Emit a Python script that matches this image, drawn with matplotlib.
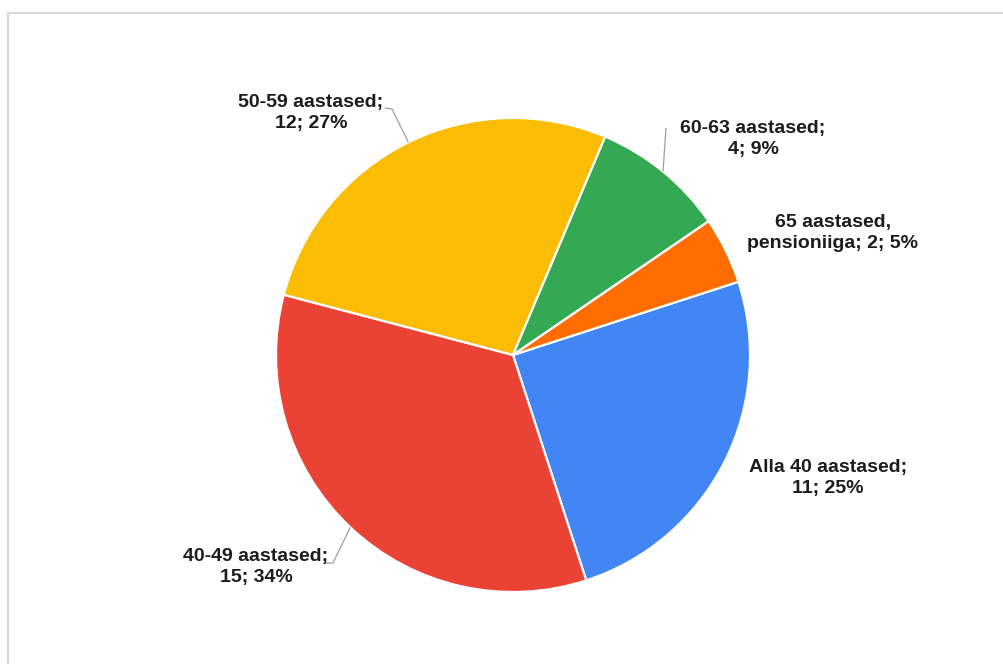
import numpy as np
import matplotlib.pyplot as plt
from matplotlib.lines import Line2D

# Age groups of respondents (clockwise from the start angle)
categories = ["Alla 40 aastased", "40-49 aastased", "50-59 aastased",
              "60-63 aastased", "65 aastased,\npensioniiga"]
counts = [11, 15, 12, 4, 2]
colors = ["#4285F4", "#EA4335", "#FBBC04", "#34A853", "#FF6D01"]

W, H, DPI = 1004, 664, 100
CX, CY, R = 513, 355, 237          # pie centre and radius in pixels

fig = plt.figure(figsize=(W / DPI, H / DPI), dpi=DPI)
ax = fig.add_axes([0, 0, 1, 1])
ax.set_aspect("equal")
ax.axis("off")

wedges, _ = ax.pie(counts, colors=colors, startangle=18, counterclock=False,
                   radius=1.0, center=(0, 0),
                   wedgeprops=dict(edgecolor="white", linewidth=1.6))
ax.set_xlim(-CX / R, (W - CX) / R)
ax.set_ylim(-(H - CY) / R, CY / R)

total = sum(counts)


def px(x, y):
    """Pixel position -> data coordinates."""
    return (x - CX) / R, (CY - y) / R


# label centres and leader-line paths (pixel layout)
label_pos = [(828, 478), (256, 567), (311, 113), (753, 139), (833, 233)]
leaders = {
    1: [(333, 563), (323, 563)],
    2: [(392, 109), (385, 108)],
    3: [(666, 128)],
}

for i, (w, cat, n) in enumerate(zip(wedges, categories, counts)):
    pct = round(100 * n / total)
    if "\n" in cat:
        text = f"{cat}; {n}; {pct}%"
    else:
        text = f"{cat};\n{n}; {pct}%"
    tx, ty = px(*label_pos[i])
    ax.text(tx, ty, text, ha="center", va="center", multialignment="center",
            fontsize=14, fontweight="bold", family="Liberation Sans",
            color="#1c1c1c", linespacing=1.3)
    if i in leaders:
        mid = np.deg2rad((w.theta1 + w.theta2) / 2)
        pts = [(np.cos(mid), np.sin(mid))] + [px(*p) for p in leaders[i]]
        xs, ys = zip(*pts)
        ax.plot(xs, ys, color="#9e9e9e", lw=0.9, solid_capstyle="butt")

# light frame on the top and left edges
fig.add_artist(Line2D([8 / W, 1], [1 - 13 / H, 1 - 13 / H],
                      color="#d9d9d9", lw=1.5, transform=fig.transFigure))
fig.add_artist(Line2D([8 / W, 8 / W], [0, 1 - 13 / H],
                      color="#d9d9d9", lw=1.5, transform=fig.transFigure))

fig.savefig("out.png", dpi=DPI, facecolor="white")
